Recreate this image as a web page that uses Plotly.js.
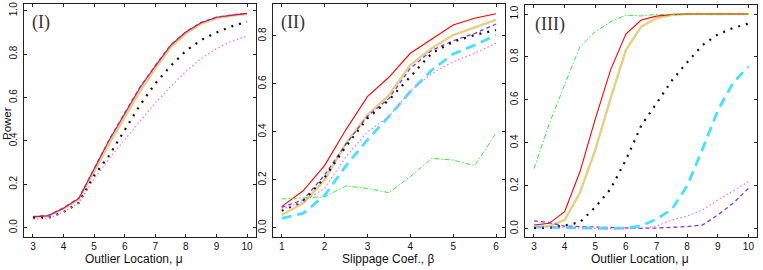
<!DOCTYPE html>
<html>
<head>
<meta charset="utf-8">
<script src="https://cdn.plot.ly/plotly-3.0.1.min.js"></script>
<style>html,body{margin:0;padding:0;background:#fff;}#chart{width:763px;height:270px;}</style>
</head>
<body>
<div id="chart"></div>
<script>
// ---------- data ----------
const muGrid = [3,3.5,4,4.5,5,5.5,6,6.5,7,7.5,8,8.5,9,9.5,10];
const betaGrid = [1,1.5,2,2.5,3,3.5,4,4.5,5,5.5,6];

// Panel I
const p1Red     = [0.050,0.055,0.090,0.135,0.270,0.405,0.525,0.645,0.745,0.840,0.902,0.945,0.970,0.980,0.988];
const p1Purple  = [0.051,0.056,0.092,0.137,0.273,0.408,0.529,0.648,0.748,0.842,0.903,0.946,0.970,0.981,0.988];
const p1Gold    = [0.050,0.055,0.088,0.130,0.258,0.388,0.510,0.628,0.733,0.830,0.895,0.940,0.965,0.978,0.985];
const p1Black   = [0.045,0.045,0.072,0.115,0.240,0.335,0.450,0.565,0.665,0.745,0.815,0.865,0.900,0.928,0.950];
const p1Magenta = [0.040,0.043,0.072,0.115,0.225,0.320,0.405,0.490,0.575,0.650,0.720,0.780,0.825,0.860,0.882];

// Panel II
const p2Red     = [0.089,0.155,0.260,0.410,0.547,0.628,0.728,0.786,0.846,0.874,0.893];
const p2Gold    = [0.054,0.103,0.200,0.353,0.471,0.553,0.679,0.749,0.804,0.836,0.867];
const p2Purple  = [0.086,0.117,0.220,0.350,0.465,0.540,0.665,0.740,0.780,0.810,0.850];
const p2Black   = [0.072,0.110,0.210,0.340,0.457,0.533,0.630,0.728,0.776,0.804,0.825];
const p2Cyan    = [0.040,0.061,0.135,0.260,0.367,0.464,0.568,0.658,0.725,0.762,0.804];
const p2Magenta = [0.078,0.110,0.165,0.297,0.400,0.464,0.570,0.644,0.693,0.728,0.770];
const p2Green   = [0.121,0.124,0.130,0.175,0.165,0.147,0.214,0.290,0.283,0.260,0.395];

// Panel III
const p3Red     = [0.017,0.025,0.079,0.265,0.510,0.740,0.907,0.972,0.990,0.998,1,1,1,1,1];
const p3Gold    = [0.009,0.012,0.040,0.168,0.367,0.607,0.832,0.941,0.980,0.995,1,1,1,1,1];
const p3Green   = [0.280,0.490,0.670,0.848,0.918,0.964,0.995,0.991,0.998,1,1,1,1,1,1];
const p3Black   = [0.003,0.005,0.015,0.030,0.100,0.185,0.320,0.480,0.584,0.690,0.775,0.855,0.905,0.935,0.955];
const p3Cyan    = [0.008,0.006,0.004,0.003,0.002,0.002,0.003,0.013,0.045,0.090,0.200,0.370,0.550,0.680,0.755];
const p3Purple  = [0.037,0.028,0.012,0.010,0.005,0.003,0.003,0.002,0.003,0.005,0.010,0.017,0.064,0.118,0.188];
const p3Magenta = [0.010,0.008,0.003,0.001,0.000,0.000,0.000,0.002,0.012,0.040,0.059,0.087,0.134,0.177,0.219];

const xTitles = ["Outlier Location, \u03bc", "Slippage Coef., \u03b2", "Outlier Location, \u03bc"];
const yTitle = "Power";
const panelLabels = ["(I)", "(II)", "(III)"];

// ---------- styles ----------
const S = {
  red:     {color:"#ff0000", width:1.1, dash:"solid"},
  gold:    {color:"#e6cf80", width:2.4, dash:"solid"},
  purple:  {color:"#6f3cff", width:1.3, dash:"4px,3px"},
  cyan:    {color:"#44e2ff", width:2.8, dash:"10px,6px"},
  black:   {color:"#111111", width:2.2, dash:"2px,6px"},
  magenta: {color:"#ff66ff", width:1.2, dash:"1.5px,2.5px"},
  green:   {color:"#33ee33", width:1.0, dash:"5px,2px,1.5px,2px"}
};

function tr(x, y, st, ax) {
  return {x:x, y:y, type:"scatter", mode:"lines", line:Object.assign({}, S[st]),
          xaxis:"x"+ax, yaxis:"y"+ax, hoverinfo:"skip", showlegend:false};
}

const data = [
  tr(muGrid, p1Gold, "gold", ""),
  tr(muGrid, p1Red, "red", ""),
  tr(muGrid, p1Purple, "purple", ""),
  tr(muGrid, p1Black, "black", ""),
  tr(muGrid, p1Magenta, "magenta", ""),

  tr(betaGrid, p2Gold, "gold", "2"),
  tr(betaGrid, p2Red, "red", "2"),
  tr(betaGrid, p2Purple, "purple", "2"),
  tr(betaGrid, p2Cyan, "cyan", "2"),
  tr(betaGrid, p2Black, "black", "2"),
  tr(betaGrid, p2Magenta, "magenta", "2"),
  tr(betaGrid, p2Green, "green", "2"),

  tr(muGrid, p3Gold, "gold", "3"),
  tr(muGrid, p3Red, "red", "3"),
  tr(muGrid, p3Purple, "purple", "3"),
  tr(muGrid, p3Cyan, "cyan", "3"),
  tr(muGrid, p3Black, "black", "3"),
  tr(muGrid, p3Magenta, "magenta", "3"),
  tr(muGrid, p3Green, "green", "3")
];

const W = 763, H = 270;
const tickFont = {family:"Liberation Sans, Arial, sans-serif", size:10, color:"#111"};
function xa(l, r, range, dtick, anchor) {
  return {domain:[l/W, r/W], range:range, dtick:dtick, tick0:0, anchor:anchor,
    showgrid:false, zeroline:false, showline:true, linecolor:"#222", linewidth:1,
    mirror:"allticks", ticks:"inside", ticklen:3, tickwidth:1, tickcolor:"#222",
    tickfont:tickFont, ticklabelstandoff:0};
}
function ya(top, bot, range, anchor) {
  return {domain:[(H-bot)/H, (H-top)/H], range:range, dtick:0.2, tick0:0, anchor:anchor,
    showgrid:false, zeroline:false, showline:true, linecolor:"#222", linewidth:1,
    mirror:"allticks", ticks:"inside", ticklen:3, tickwidth:1, tickcolor:"#222",
    tickfont:tickFont, tickangle:-90, tickformat:".1f", ticklabelstandoff:2};
}

const titleFont = {family:"Liberation Sans, Arial, sans-serif", size:12, color:"#111"};
const powerFont = {family:"Liberation Sans, Arial, sans-serif", size:11.5, color:"#111"};
const labelFont = {family:"Liberation Serif, Times New Roman, serif", size:18, color:"#333"};

const layout = {
  width:W, height:H, margin:{l:0,r:0,t:0,b:0}, paper_bgcolor:"#fff", plot_bgcolor:"#fff",
  showlegend:false,
  xaxis:  xa(24.4, 255.6, [2.72, 10.28], 1, "y"),
  yaxis:  ya(4, 236.5, [-0.0406, 1.031], "x"),
  xaxis2: xa(273.1, 504.6, [0.8, 6.2], 1, "y2"),
  yaxis2: ya(4, 236.8, [-0.0367, 0.9333], "x2"),
  xaxis3: xa(525.4, 757, [2.72, 10.28], 1, "y3"),
  yaxis3: ya(5, 237.3, [-0.040, 1.042], "x3"),
  annotations: [
    {text:xTitles[0], xref:"paper", yref:"paper", x:134/W, y:(H-259)/H, showarrow:false, font:titleFont, xanchor:"center", yanchor:"middle"},
    {text:xTitles[1], xref:"paper", yref:"paper", x:388/W, y:(H-259)/H, showarrow:false, font:titleFont, xanchor:"center", yanchor:"middle"},
    {text:xTitles[2], xref:"paper", yref:"paper", x:640/W, y:(H-259)/H, showarrow:false, font:titleFont, xanchor:"center", yanchor:"middle"},
    {text:yTitle, xref:"paper", yref:"paper", x:0, y:(H-124)/H, showarrow:false, font:powerFont, textangle:-90, xanchor:"left", yanchor:"middle", borderpad:0},
    {text:panelLabels[0], xref:"paper", yref:"paper", x:41/W, y:(H-23)/H, showarrow:false, font:labelFont, xanchor:"center", yanchor:"middle"},
    {text:panelLabels[1], xref:"paper", yref:"paper", x:293/W, y:(H-23)/H, showarrow:false, font:labelFont, xanchor:"center", yanchor:"middle"},
    {text:panelLabels[2], xref:"paper", yref:"paper", x:549.5/W, y:(H-24)/H, showarrow:false, font:labelFont, xanchor:"center", yanchor:"middle"}
  ]
};

Plotly.newPlot("chart", data, layout, {staticPlot:true, displayModeBar:false});
</script>
</body>
</html>
